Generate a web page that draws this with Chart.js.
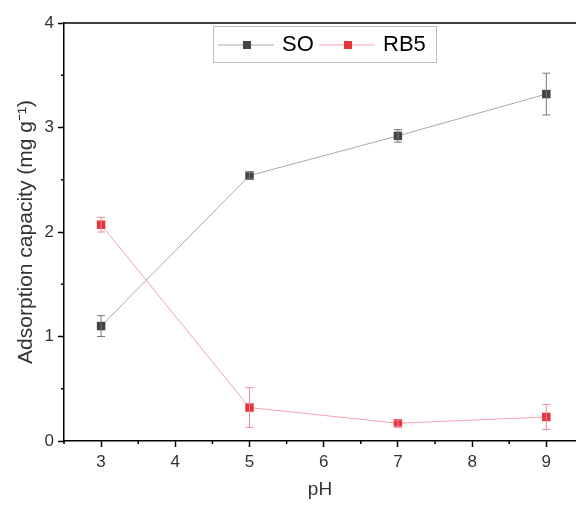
<!DOCTYPE html>
<html>
<head>
<meta charset="utf-8">
<script src="https://cdn.jsdelivr.net/npm/chart.js@4/dist/chart.umd.min.js"></script>
<style>
  html, body { margin: 0; padding: 0; background: #fff; }
  #wrap { width: 576px; height: 505px; }
</style>
</head>
<body>
<div id="wrap"><canvas id="chart" width="576" height="505"></canvas></div>
<script>
const phValues = [3, 5, 7, 9];
const soValues = [1.10, 2.54, 2.92, 3.32];
const soErrors = [0.10, 0.03, 0.06, 0.20];
const rb5Values = [2.07, 0.32, 0.17, 0.23];
const rb5Errors = [0.07, 0.19, 0.03, 0.12];
const xTicks = [3, 4, 5, 6, 7, 8, 9];
const yTicks = [0, 1, 2, 3, 4];
const seriesNames = ["SO", "RB5"];

const FONT = "Liberation Sans, Arial, sans-serif";

// error bars, minor ticks, top frame and legend
const extras = {
    id: "extras",
    afterDatasetsDraw(chart) {
        const ctx = chart.ctx;
        const xs = chart.scales.x;
        const ys = chart.scales.y;
        const area = chart.chartArea;

        const errs = [soErrors, rb5Errors];
        const errColors = ["#777", "#f08a92"];
        chart.data.datasets.forEach((ds, i) => {
            ctx.save();
            ctx.strokeStyle = errColors[i];
            ctx.lineWidth = 1;
            ds.data.forEach((p, j) => {
                const px = xs.getPixelForValue(p.x);
                const top = ys.getPixelForValue(p.y + errs[i][j]);
                const bot = ys.getPixelForValue(p.y - errs[i][j]);
                ctx.beginPath();
                ctx.moveTo(px, top); ctx.lineTo(px, bot);
                ctx.moveTo(px - 4, top); ctx.lineTo(px + 4, top);
                ctx.moveTo(px - 4, bot); ctx.lineTo(px + 4, bot);
                ctx.stroke();
            });
            ctx.restore();
        });

        ctx.save();
        ctx.strokeStyle = "#000";
        ctx.lineWidth = 1.5;
        ctx.beginPath();
        for (let v = 2.5; v <= 9.5; v += 1) {
            const px = xs.getPixelForValue(v);
            if (px < area.left || px > area.right) continue;
            ctx.moveTo(px, area.bottom); ctx.lineTo(px, area.bottom + 3);
        }
        for (let v = 0.5; v < 4; v += 1) {
            const py = ys.getPixelForValue(v);
            ctx.moveTo(area.left, py); ctx.lineTo(area.left - 3, py);
        }
        ctx.moveTo(area.left, area.top); ctx.lineTo(area.right, area.top);
        ctx.stroke();
        ctx.restore();

        // legend box
        const bx = 213, by = 26, bw = 223, bh = 36;
        ctx.save();
        ctx.fillStyle = "#fff";
        ctx.fillRect(bx, by, bw, bh);
        ctx.strokeStyle = "#bbb";
        ctx.lineWidth = 1;
        ctx.strokeRect(bx + 0.5, by + 0.5, bw, bh);
        ctx.font = "22px " + FONT;
        ctx.textBaseline = "middle";
        const cy = by + bh / 2 + 1;
        let lx = bx + 5;
        chart.data.datasets.forEach((ds, i) => {
            ctx.strokeStyle = ds.borderColor;
            ctx.lineWidth = 1;
            ctx.beginPath();
            ctx.moveTo(lx, cy); ctx.lineTo(lx + 56, cy);
            ctx.stroke();
            ctx.fillStyle = ds.pointBackgroundColor;
            ctx.fillRect(lx + 25, cy - 4, 8, 8);
            ctx.fillStyle = "#000";
            ctx.fillText(seriesNames[i], lx + 64, cy);
            lx += 101;
        });
        ctx.restore();
    }
};

new Chart(document.getElementById("chart"), {
    type: "line",
    data: {
        datasets: [
            {
                label: seriesNames[0],
                data: phValues.map((x, i) => ({ x, y: soValues[i] })),
                borderColor: "#aaaaaa",
                borderWidth: 1,
                pointStyle: "rect",
                pointRadius: 6,
                pointBackgroundColor: "#444444",
                pointBorderColor: "#444444",
                pointBorderWidth: 0
            },
            {
                label: seriesNames[1],
                data: phValues.map((x, i) => ({ x, y: rb5Values[i] })),
                borderColor: "#f5a3ab",
                borderWidth: 1,
                pointStyle: "rect",
                pointRadius: 6,
                pointBackgroundColor: "#e8323c",
                pointBorderColor: "#e8323c",
                pointBorderWidth: 0
            }
        ]
    },
    options: {
        responsive: false,
        animation: false,
        layout: { autoPadding: false, padding: { top: 23, right: 0, left: 0, bottom: 0 } },
        plugins: { legend: { display: false }, tooltip: { enabled: false } },
        scales: {
            x: {
                type: "linear",
                min: 2.5,
                max: 9.4,
                afterBuildTicks: s => { s.ticks = xTicks.map(v => ({ value: v })); },
                afterFit: s => { s.height = 64; },
                grid: { drawOnChartArea: false, tickLength: 6, tickColor: "#000", tickWidth: 1.5 },
                border: { color: "#000", width: 1.5 },
                ticks: { color: "#333", font: { size: 17, family: FONT }, padding: 5 },
                title: { display: true, text: "pH", color: "#333", font: { size: 19, family: FONT }, padding: { top: 5 } }
            },
            y: {
                min: 0,
                max: 4,
                afterBuildTicks: s => { s.ticks = yTicks.map(v => ({ value: v })); },
                afterFit: s => { s.width = 64; },
                grid: { drawOnChartArea: false, tickLength: 6, tickColor: "#000", tickWidth: 1.5 },
                border: { color: "#000", width: 1.5 },
                ticks: { color: "#333", font: { size: 17, family: FONT }, padding: 4 },
                title: { display: true, text: "Adsorption capacity (mg g\u207B\u00B9)", color: "#333", font: { size: 21, family: FONT }, padding: { top: 14, bottom: 0 } }
            }
        }
    },
    plugins: [extras]
});
</script>
</body>
</html>
